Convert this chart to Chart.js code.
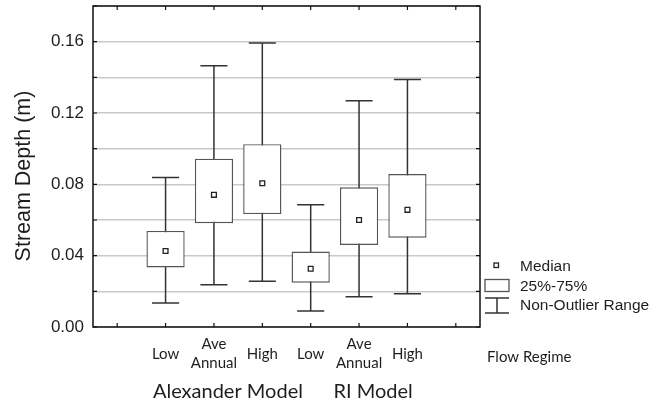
<!DOCTYPE html>
<html>
<head>
<meta charset="utf-8">
<script src="https://cdn.jsdelivr.net/npm/chart.js@4.4.1/dist/chart.umd.min.js"></script>
<style>
  body { margin: 0; background: #fff; }
  canvas { display: block; }
</style>
</head>
<body>
<canvas id="depthChart" width="667" height="405"></canvas>
<script>
// flow regime categories (blank slots at both ends, as in the original plot)
const categories = ["", "Low", ["Ave", "Annual"], "High", "Low", ["Ave", "Annual"], "High", ""];
const groupLabels = ["Alexander Model", "RI Model"];
const groupCenters = [2, 5];

// box plot statistics, stream depth in metres
const whiskerLow  = [null, 0.0135, 0.0237, 0.0257, 0.0090, 0.0169, 0.0186, null];
const q1          = [null, 0.0334, 0.0582, 0.0633, 0.0248, 0.0460, 0.0501, null];
const medians     = [null, 0.0426, 0.0741, 0.0806, 0.0327, 0.0600, 0.0657, null];
const q3          = [null, 0.0539, 0.0944, 0.1025, 0.0423, 0.0783, 0.0858, null];
const whiskerHigh = [null, 0.0839, 0.1465, 0.1592, 0.0685, 0.1268, 0.1388, null];

const yTickLabels = ["0.00", "0.04", "0.08", "0.12", "0.16"];
const legendLabels = ["Median", "25%-75%", "Non-Outlier Range"];

const boxes = q1.map((v, i) => (v == null ? null : [v, q3[i]]));

const ink = "#1e1e1e";

// whiskers behind the boxes
const whiskerPlugin = {
    id: "whiskers",
    beforeDatasetsDraw(chart) {
        const ctx = chart.ctx;
        const x = chart.scales.x;
        const y = chart.scales.y;
        const catW = x.width / categories.length;
        ctx.save();
        ctx.strokeStyle = "#333";
        ctx.lineWidth = 1.5;
        whiskerLow.forEach((lo, i) => {
            if (lo == null) return;
            const cx = x.getPixelForValue(i);
            const yl = y.getPixelForValue(lo);
            const yh = y.getPixelForValue(whiskerHigh[i]);
            const half = catW * 0.28;
            ctx.beginPath();
            ctx.moveTo(cx, yl); ctx.lineTo(cx, yh);
            ctx.moveTo(cx - half, yl); ctx.lineTo(cx + half, yl);
            ctx.moveTo(cx - half, yh); ctx.lineTo(cx + half, yh);
            ctx.stroke();
        });
        ctx.restore();
    }
};

// frame, inward ticks, legend and extra labels
const framePlugin = {
    id: "frame",
    afterDraw(chart) {
        const ctx = chart.ctx;
        const a = chart.chartArea;
        const x = chart.scales.x;
        const y = chart.scales.y;
        ctx.save();
        ctx.strokeStyle = "#111";
        ctx.lineWidth = 1.5;
        ctx.strokeRect(a.left, a.top, a.right - a.left, a.bottom - a.top);

        ctx.lineWidth = 1.2;
        ctx.beginPath();
        y.ticks.forEach((t, i) => {
            const py = y.getPixelForTick(i);
            ctx.moveTo(a.left, py); ctx.lineTo(a.left + 4, py);
            ctx.moveTo(a.right, py); ctx.lineTo(a.right - 4, py);
        });
        x.ticks.forEach((t, i) => {
            const px = x.getPixelForTick(i);
            ctx.moveTo(px, a.top); ctx.lineTo(px, a.top + 4);
            ctx.moveTo(px, a.bottom); ctx.lineTo(px, a.bottom - 4);
        });
        ctx.stroke();

        ctx.fillStyle = ink;
        ctx.textBaseline = "middle";

        // y axis title
        ctx.save();
        ctx.translate(24, 176);
        ctx.rotate(-Math.PI / 2);
        ctx.textAlign = "center";
        ctx.font = "21.5px 'Liberation Sans'";
        ctx.fillText("Stream Depth (m)", 0, 0);
        ctx.restore();

        // group titles under the categories
        ctx.textAlign = "center";
        ctx.font = "20px Lato";
        groupLabels.forEach((g, k) => {
            ctx.fillText(g, x.getPixelForValue(groupCenters[k]) + 14, 392);
        });

        ctx.textAlign = "left";
        ctx.font = "15px Lato";
        ctx.fillText("Flow Regime", a.right + 7, 357);

        // legend
        const lx = a.right + 5;
        ctx.font = "15.5px 'Liberation Sans'";
        ctx.fillText(legendLabels[0], a.right + 40, 267);
        ctx.fillText(legendLabels[1], a.right + 40, 287);
        ctx.fillText(legendLabels[2], a.right + 40, 306);

        ctx.strokeStyle = "#222";
        ctx.lineWidth = 1.3;
        ctx.strokeRect(a.right + 14, 263, 4.5, 4.5);

        ctx.strokeStyle = "#555";
        ctx.strokeRect(lx, 279.5, 24, 12);

        ctx.strokeStyle = "#333";
        ctx.lineWidth = 1.5;
        ctx.beginPath();
        ctx.moveTo(lx, 298); ctx.lineTo(lx + 24, 298);
        ctx.moveTo(lx + 12, 298); ctx.lineTo(lx + 12, 313);
        ctx.moveTo(lx, 313); ctx.lineTo(lx + 24, 313);
        ctx.stroke();
        ctx.restore();
    }
};

new Chart(document.getElementById("depthChart"), {
    data: {
        labels: categories,
        datasets: [
            {
                type: "line",
                label: "Median",
                data: medians,
                showLine: false,
                pointStyle: "rect",
                pointRadius: 3.4,
                pointBorderWidth: 1.3,
                pointBackgroundColor: "#fff",
                pointBorderColor: "#222"
            },
            {
                type: "bar",
                label: "25%-75%",
                data: boxes,
                backgroundColor: "#fff",
                borderColor: "#555",
                borderWidth: 1.4,
                borderSkipped: false,
                barPercentage: 0.79,
                categoryPercentage: 1
            }
        ]
    },
    plugins: [whiskerPlugin, framePlugin],
    options: {
        responsive: false,
        animation: false,
        devicePixelRatio: 1,
        layout: { padding: { top: 6, right: 187, left: 0, bottom: 0 } },
        plugins: {
            legend: { display: false },
            tooltip: { enabled: false }
        },
        scales: {
            x: {
                offset: true,
                grid: { display: false },
                border: { display: false },
                ticks: {
                    autoSkip: false,
                    maxRotation: 0,
                    crossAlign: "center",
                    padding: 9,
                    color: ink,
                    font: { family: "Lato", size: 15, lineHeight: 1.3 }
                },
                afterFit(scale) {
                    scale.height = 78;
                    scale.paddingLeft = 0;
                    scale.paddingRight = 0;
                }
            },
            y: {
                min: 0,
                max: 0.18,
                grid: { color: "#c9c9c9", lineWidth: 1.5, drawTicks: false },
                border: { display: false },
                ticks: {
                    stepSize: 0.02,
                    padding: 9,
                    color: ink,
                    font: { family: "Liberation Sans", size: 17 },
                    callback: v => {
                        const s = (Math.round(v * 100) / 100).toFixed(2);
                        return yTickLabels.includes(s) ? s : "";
                    }
                },
                afterFit(scale) {
                    scale.width = 93;
                    scale.paddingTop = 0;
                    scale.paddingBottom = 0;
                }
            }
        }
    }
});
</script>
</body>
</html>
